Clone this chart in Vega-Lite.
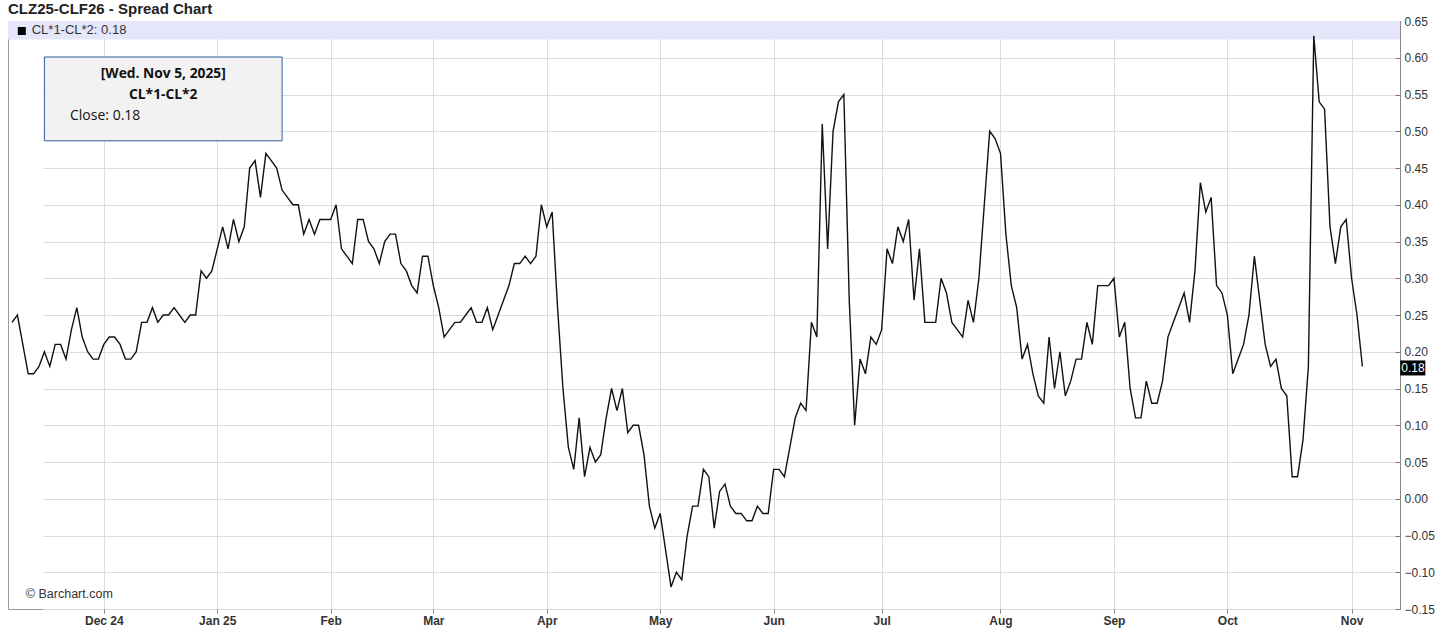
{
  "$schema": "https://vega.github.io/schema/vega-lite/v6.json",
  "width": 1392,
  "height": 588,
  "autosize": {"type": "none"},
  "padding": {"left": 8, "top": 21, "right": 56, "bottom": 35},
  "background": "white",
  "config": {"view": {"stroke": "#9a9a9a", "strokeWidth": 1}, "font": "Liberation Sans"},
  "title": {"text": "CLZ25-CLF26 - Spread Chart", "anchor": "start", "frame": "group", "font": "Liberation Sans", "fontSize": 15, "fontWeight": "bold", "color": "#222222", "offset": 5, "dy": 7},
  "datasets": {
    "spread": [
      {"d":"2024-11-06","v":0.24},{"d":"2024-11-07","v":0.25},{"d":"2024-11-08","v":0.21},{"d":"2024-11-11","v":0.17},{"d":"2024-11-12","v":0.17},
      {"d":"2024-11-13","v":0.18},{"d":"2024-11-14","v":0.20},{"d":"2024-11-15","v":0.18},{"d":"2024-11-18","v":0.21},{"d":"2024-11-19","v":0.21},
      {"d":"2024-11-20","v":0.19},{"d":"2024-11-21","v":0.23},{"d":"2024-11-22","v":0.26},{"d":"2024-11-25","v":0.22},{"d":"2024-11-26","v":0.20},
      {"d":"2024-11-27","v":0.19},{"d":"2024-11-29","v":0.19},{"d":"2024-12-02","v":0.21},{"d":"2024-12-03","v":0.22},{"d":"2024-12-04","v":0.22},
      {"d":"2024-12-05","v":0.21},{"d":"2024-12-06","v":0.19},{"d":"2024-12-09","v":0.19},{"d":"2024-12-10","v":0.20},{"d":"2024-12-11","v":0.24},
      {"d":"2024-12-12","v":0.24},{"d":"2024-12-13","v":0.26},{"d":"2024-12-16","v":0.24},{"d":"2024-12-17","v":0.25},{"d":"2024-12-18","v":0.25},
      {"d":"2024-12-19","v":0.26},{"d":"2024-12-20","v":0.25},{"d":"2024-12-23","v":0.24},{"d":"2024-12-24","v":0.25},{"d":"2024-12-26","v":0.25},
      {"d":"2024-12-27","v":0.31},{"d":"2024-12-30","v":0.30},{"d":"2024-12-31","v":0.31},{"d":"2025-01-02","v":0.34},{"d":"2025-01-03","v":0.37},
      {"d":"2025-01-06","v":0.34},{"d":"2025-01-07","v":0.38},{"d":"2025-01-08","v":0.35},{"d":"2025-01-09","v":0.37},{"d":"2025-01-10","v":0.45},
      {"d":"2025-01-13","v":0.46},{"d":"2025-01-14","v":0.41},{"d":"2025-01-15","v":0.47},{"d":"2025-01-16","v":0.46},{"d":"2025-01-17","v":0.45},
      {"d":"2025-01-21","v":0.42},{"d":"2025-01-22","v":0.41},{"d":"2025-01-23","v":0.40},{"d":"2025-01-24","v":0.40},{"d":"2025-01-27","v":0.36},
      {"d":"2025-01-28","v":0.38},{"d":"2025-01-29","v":0.36},{"d":"2025-01-30","v":0.38},{"d":"2025-01-31","v":0.38},{"d":"2025-02-03","v":0.38},
      {"d":"2025-02-04","v":0.40},{"d":"2025-02-05","v":0.34},{"d":"2025-02-06","v":0.33},{"d":"2025-02-07","v":0.32},{"d":"2025-02-10","v":0.38},
      {"d":"2025-02-11","v":0.38},{"d":"2025-02-12","v":0.35},{"d":"2025-02-13","v":0.34},{"d":"2025-02-14","v":0.32},{"d":"2025-02-18","v":0.35},
      {"d":"2025-02-19","v":0.36},{"d":"2025-02-20","v":0.36},{"d":"2025-02-21","v":0.32},{"d":"2025-02-24","v":0.31},{"d":"2025-02-25","v":0.29},
      {"d":"2025-02-26","v":0.28},{"d":"2025-02-27","v":0.33},{"d":"2025-02-28","v":0.33},{"d":"2025-03-03","v":0.29},{"d":"2025-03-04","v":0.26},
      {"d":"2025-03-05","v":0.22},{"d":"2025-03-06","v":0.23},{"d":"2025-03-07","v":0.24},{"d":"2025-03-10","v":0.24},{"d":"2025-03-11","v":0.25},
      {"d":"2025-03-12","v":0.26},{"d":"2025-03-13","v":0.24},{"d":"2025-03-14","v":0.24},{"d":"2025-03-17","v":0.26},{"d":"2025-03-18","v":0.23},
      {"d":"2025-03-19","v":0.25},{"d":"2025-03-20","v":0.27},{"d":"2025-03-21","v":0.29},{"d":"2025-03-24","v":0.32},{"d":"2025-03-25","v":0.32},
      {"d":"2025-03-26","v":0.33},{"d":"2025-03-27","v":0.32},{"d":"2025-03-28","v":0.33},{"d":"2025-03-31","v":0.40},{"d":"2025-04-01","v":0.37},
      {"d":"2025-04-02","v":0.39},{"d":"2025-04-03","v":0.26},{"d":"2025-04-04","v":0.15},{"d":"2025-04-07","v":0.07},{"d":"2025-04-08","v":0.04},
      {"d":"2025-04-09","v":0.11},{"d":"2025-04-10","v":0.03},{"d":"2025-04-11","v":0.07},{"d":"2025-04-14","v":0.05},{"d":"2025-04-15","v":0.06},
      {"d":"2025-04-16","v":0.11},{"d":"2025-04-17","v":0.15},{"d":"2025-04-21","v":0.12},{"d":"2025-04-22","v":0.15},{"d":"2025-04-23","v":0.09},
      {"d":"2025-04-24","v":0.10},{"d":"2025-04-25","v":0.10},{"d":"2025-04-28","v":0.06},{"d":"2025-04-29","v":-0.01},{"d":"2025-04-30","v":-0.04},
      {"d":"2025-05-01","v":-0.02},{"d":"2025-05-02","v":-0.07},{"d":"2025-05-05","v":-0.12},{"d":"2025-05-06","v":-0.10},{"d":"2025-05-07","v":-0.11},
      {"d":"2025-05-08","v":-0.05},{"d":"2025-05-09","v":-0.01},{"d":"2025-05-12","v":-0.01},{"d":"2025-05-13","v":0.04},{"d":"2025-05-14","v":0.03},
      {"d":"2025-05-15","v":-0.04},{"d":"2025-05-16","v":0.01},{"d":"2025-05-19","v":0.02},{"d":"2025-05-20","v":-0.01},{"d":"2025-05-21","v":-0.02},
      {"d":"2025-05-22","v":-0.02},{"d":"2025-05-23","v":-0.03},{"d":"2025-05-27","v":-0.03},{"d":"2025-05-28","v":-0.01},{"d":"2025-05-29","v":-0.02},
      {"d":"2025-05-30","v":-0.02},{"d":"2025-06-02","v":0.04},{"d":"2025-06-03","v":0.04},{"d":"2025-06-04","v":0.03},{"d":"2025-06-05","v":0.07},
      {"d":"2025-06-06","v":0.11},{"d":"2025-06-09","v":0.13},{"d":"2025-06-10","v":0.12},{"d":"2025-06-11","v":0.24},{"d":"2025-06-12","v":0.22},
      {"d":"2025-06-13","v":0.51},{"d":"2025-06-16","v":0.34},{"d":"2025-06-17","v":0.50},{"d":"2025-06-18","v":0.54},{"d":"2025-06-20","v":0.55},
      {"d":"2025-06-23","v":0.27},{"d":"2025-06-24","v":0.10},{"d":"2025-06-25","v":0.19},{"d":"2025-06-26","v":0.17},{"d":"2025-06-27","v":0.22},
      {"d":"2025-06-30","v":0.21},{"d":"2025-07-01","v":0.23},{"d":"2025-07-02","v":0.34},{"d":"2025-07-03","v":0.32},{"d":"2025-07-07","v":0.37},
      {"d":"2025-07-08","v":0.35},{"d":"2025-07-09","v":0.38},{"d":"2025-07-10","v":0.27},{"d":"2025-07-11","v":0.34},{"d":"2025-07-14","v":0.24},
      {"d":"2025-07-15","v":0.24},{"d":"2025-07-16","v":0.24},{"d":"2025-07-17","v":0.30},{"d":"2025-07-18","v":0.28},{"d":"2025-07-21","v":0.24},
      {"d":"2025-07-22","v":0.23},{"d":"2025-07-23","v":0.22},{"d":"2025-07-24","v":0.27},{"d":"2025-07-25","v":0.24},{"d":"2025-07-28","v":0.30},
      {"d":"2025-07-29","v":0.40},{"d":"2025-07-30","v":0.50},{"d":"2025-07-31","v":0.49},{"d":"2025-08-01","v":0.47},{"d":"2025-08-04","v":0.36},
      {"d":"2025-08-05","v":0.29},{"d":"2025-08-06","v":0.26},{"d":"2025-08-07","v":0.19},{"d":"2025-08-08","v":0.21},{"d":"2025-08-11","v":0.17},
      {"d":"2025-08-12","v":0.14},{"d":"2025-08-13","v":0.13},{"d":"2025-08-14","v":0.22},{"d":"2025-08-15","v":0.15},{"d":"2025-08-18","v":0.20},
      {"d":"2025-08-19","v":0.14},{"d":"2025-08-20","v":0.16},{"d":"2025-08-21","v":0.19},{"d":"2025-08-22","v":0.19},{"d":"2025-08-25","v":0.24},
      {"d":"2025-08-26","v":0.21},{"d":"2025-08-27","v":0.29},{"d":"2025-08-28","v":0.29},{"d":"2025-08-29","v":0.29},{"d":"2025-09-02","v":0.30},
      {"d":"2025-09-03","v":0.22},{"d":"2025-09-04","v":0.24},{"d":"2025-09-05","v":0.15},{"d":"2025-09-08","v":0.11},{"d":"2025-09-09","v":0.11},
      {"d":"2025-09-10","v":0.16},{"d":"2025-09-11","v":0.13},{"d":"2025-09-12","v":0.13},{"d":"2025-09-15","v":0.16},{"d":"2025-09-16","v":0.22},
      {"d":"2025-09-17","v":0.24},{"d":"2025-09-18","v":0.26},{"d":"2025-09-19","v":0.28},{"d":"2025-09-22","v":0.24},{"d":"2025-09-23","v":0.31},
      {"d":"2025-09-24","v":0.43},{"d":"2025-09-25","v":0.39},{"d":"2025-09-26","v":0.41},{"d":"2025-09-29","v":0.29},{"d":"2025-09-30","v":0.28},
      {"d":"2025-10-01","v":0.25},{"d":"2025-10-02","v":0.17},{"d":"2025-10-03","v":0.19},{"d":"2025-10-06","v":0.21},{"d":"2025-10-07","v":0.25},
      {"d":"2025-10-08","v":0.33},{"d":"2025-10-09","v":0.27},{"d":"2025-10-10","v":0.21},{"d":"2025-10-13","v":0.18},{"d":"2025-10-14","v":0.19},
      {"d":"2025-10-15","v":0.15},{"d":"2025-10-16","v":0.14},{"d":"2025-10-17","v":0.03},{"d":"2025-10-20","v":0.03},{"d":"2025-10-21","v":0.08},
      {"d":"2025-10-22","v":0.18},{"d":"2025-10-23","v":0.63},{"d":"2025-10-24","v":0.54},{"d":"2025-10-27","v":0.53},{"d":"2025-10-28","v":0.37},
      {"d":"2025-10-29","v":0.32},{"d":"2025-10-30","v":0.37},{"d":"2025-10-31","v":0.38},{"d":"2025-11-03","v":0.30},{"d":"2025-11-04","v":0.25},
      {"d":"2025-11-05","v":0.18}
    ],
    "one": [{}]
  },
  "layer": [
    {
      "data": {"name": "one"},
      "mark": {"type": "rect", "color": "#e6e6fb"},
      "encoding": {
        "y": {"datum": 0.65, "type": "quantitative"},
        "y2": {"datum": 0.625}
      }
    },
    {
      "data": {"name": "spread"},
      "mark": {"type": "line", "color": "#111111", "strokeWidth": 1.4},
      "encoding": {
        "x": {
          "field": "d", "type": "ordinal", "sort": "ascending",
          "scale": {"type": "point", "range": [1.3, 1357.1]},
          "axis": {
            "title": null,
            "values": ["2024-12-02","2025-01-02","2025-02-03","2025-03-03","2025-04-01","2025-05-01","2025-06-02","2025-07-01","2025-08-01","2025-09-02","2025-10-01","2025-11-03"],
            "labelExpr": "indexof(['2024-12-02','2025-01-02'], datum.value) >= 0 ? utcFormat(toDate(datum.value), '%b %y') : utcFormat(toDate(datum.value), '%b')",
            "labelAngle": 0, "labelFont": "Liberation Sans", "labelFontSize": 12, "labelFontWeight": "bold", "labelColor": "#333333",
            "labelPadding": 2, "labelOverlap": false, "ticks": true, "tickSize": 4, "tickColor": "#888888", "domain": false,
            "grid": true, "gridColor": "#dcdcdc", "gridWidth": 1
          }
        },
        "y": {
          "field": "v", "type": "quantitative",
          "scale": {"domain": [-0.15, 0.65], "nice": false, "zero": false},
          "axis": {
            "orient": "right", "title": null, "tickCount": 40,
            "values": [-0.15,-0.1,-0.05,0,0.05,0.1,0.15,0.2,0.25,0.3,0.35,0.4,0.45,0.5,0.55,0.6,0.65],
            "format": ".2f", "labelFont": "Liberation Sans", "labelFontSize": 12, "labelColor": "#333333",
            "labelOverlap": false, "labelBound": false, "labelFlush": false,
            "labelPadding": 9, "tickSize": -5, "tickColor": "#777777", "domainColor": "#888888",
            "grid": true, "gridColor": "#dcdcdc", "gridWidth": 1
          }
        }
      }
    },
    {
      "data": {"name": "one"},
      "mark": {"type": "rect", "fill": "#f2f2f2", "stroke": "#2f5f9f", "strokeWidth": 1},
      "encoding": {
        "x": {"datum": "2024-11-14", "type": "ordinal"},
        "x2": {"datum": "2025-01-21"},
        "y": {"datum": 0.601, "type": "quantitative"},
        "y2": {"datum": 0.487}
      }
    },
    {
      "data": {"name": "one"},
      "mark": {"type": "text", "text": "[Wed. Nov 5, 2025]", "font": "Open Sans", "fontSize": 13.8, "fontWeight": "bold", "color": "#111111", "align": "center", "baseline": "middle"},
      "encoding": {"x": {"datum": "2024-12-17", "type": "ordinal"}, "y": {"datum": 0.578, "type": "quantitative"}}
    },
    {
      "data": {"name": "one"},
      "mark": {"type": "text", "text": "CL*1-CL*2", "font": "Open Sans", "fontSize": 13.8, "fontWeight": "bold", "color": "#111111", "align": "center", "baseline": "middle"},
      "encoding": {"x": {"datum": "2024-12-17", "type": "ordinal"}, "y": {"datum": 0.549, "type": "quantitative"}}
    },
    {
      "data": {"name": "one"},
      "mark": {"type": "text", "text": "Close: 0.18", "font": "Open Sans", "fontSize": 14, "color": "#111111", "align": "left", "baseline": "middle", "dx": 4},
      "encoding": {"x": {"datum": "2024-11-20", "type": "ordinal"}, "y": {"datum": 0.521, "type": "quantitative"}}
    },
    {
      "data": {"name": "one"},
      "mark": {"type": "point", "shape": "square", "size": 64, "filled": true, "color": "#000000", "opacity": 1, "strokeWidth": 0, "xOffset": -1},
      "encoding": {"x": {"datum": "2024-11-08", "type": "ordinal"}, "y": {"datum": 0.6364, "type": "quantitative"}}
    },
    {
      "data": {"name": "one"},
      "mark": {"type": "text", "text": "CL*1-CL*2: 0.18", "fontSize": 13, "color": "#333333", "align": "left", "baseline": "middle", "dx": 3.5},
      "encoding": {"x": {"datum": "2024-11-11", "type": "ordinal"}, "y": {"datum": 0.6375, "type": "quantitative"}}
    },
    {
      "data": {"name": "one"},
      "mark": {"type": "text", "text": "© Barchart.com", "fontSize": 12.5, "color": "#333333", "align": "left", "baseline": "middle", "dx": 3},
      "encoding": {"x": {"datum": "2024-11-08", "type": "ordinal"}, "y": {"datum": -0.1296, "type": "quantitative"}}
    },
    {
      "data": {"name": "one"},
      "mark": {"type": "point", "shape": "M5.05,-0.8H8.39V1.2H5.05Z", "size": 225, "filled": true, "color": "#000000", "opacity": 1, "strokeWidth": 0},
      "encoding": {"x": {"datum": "2025-11-05", "type": "ordinal"}, "y": {"datum": 0.18, "type": "quantitative"}}
    },
    {
      "data": {"name": "one"},
      "mark": {"type": "text", "text": "0.18", "fontSize": 12, "color": "#ffffff", "align": "center", "baseline": "middle", "dx": 50.5, "dy": 1.5},
      "encoding": {"x": {"datum": "2025-11-05", "type": "ordinal"}, "y": {"datum": 0.18, "type": "quantitative"}}
    }
  ]
}
